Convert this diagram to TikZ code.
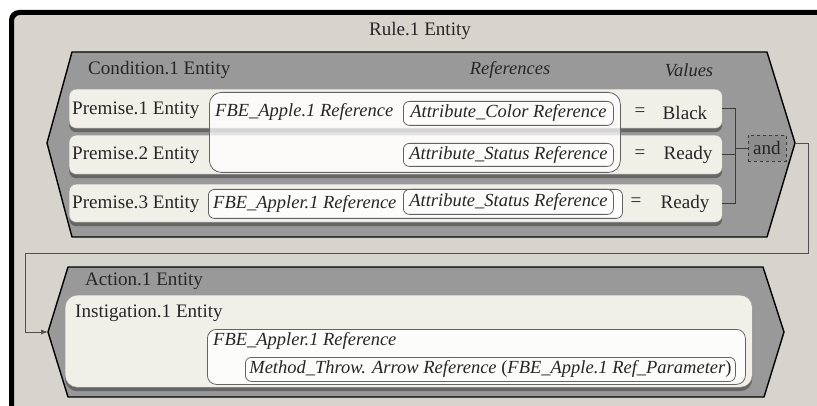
\documentclass[tikz,border=0pt]{standalone}
\usepackage{fontspec}
\setmainfont{Liberation Serif}
\usetikzlibrary{shadows,arrows.meta}
\definecolor{rulebg}{HTML}{D6D4CC}
\definecolor{hexbg}{HTML}{999999}
\definecolor{rowbg}{HTML}{F1F0E8}
\definecolor{refbg}{HTML}{FCFCFA}
\definecolor{shadowc}{HTML}{666666}
\definecolor{linec}{HTML}{3C3C3C}
\newcommand{\itfont}{\fontsize{18.5}{22}\selectfont\itshape}
\begin{document}
\begin{tikzpicture}[x=1pt,y=-1pt,
  font=\fontsize{19.1}{22}\selectfont,
  rowbox/.style={draw=linec!50, fill=rowbg, rounded corners=7pt, anchor=north west, inner sep=0pt,
    drop shadow={shadow xshift=0pt, shadow yshift=-4pt, fill=shadowc, opacity=1}},
  refbox/.style={draw=linec!80, fill=refbg, rounded corners=6pt, anchor=north west, inner sep=0pt, line width=0.8pt},
  hexshape/.style={draw=black, fill=hexbg, line width=1.4pt, line join=round},
  lbl/.style={anchor=west, inner sep=0pt, text=black!85},
  reftxt/.style={lbl, font=\itfont},
  ctr/.style={inner sep=0pt, text=black!85},
  conn/.style={draw=linec, line width=0.9pt}
]
\useasboundingbox (0,0) rectangle (817,406);
% outer rule box
\fill[white] (0,0) rectangle (817,406);
\fill[rulebg] (12,13) rectangle (817,406);
\fill[black] (9,406) -- (9,20) arc[start angle=180, end angle=90, radius=10pt] -- (817,10) -- (817,15)
  -- (20,15) arc[start angle=90, end angle=180, radius=6pt] -- (14,406) -- cycle;
\node[ctr] (rule) at (420,31) {Rule.1 Entity};

% condition hexagon
\coordinate (cTL) at (72,52);
\coordinate (cTR) at (767,52);
\coordinate (condR) at (795,143);
\coordinate (cBR) at (767,237);
\coordinate (cBL) at (72,237);
\coordinate (condL) at (47,143);
\draw[hexshape] (cTL) -- (cTR) -- (condR) -- (cBR) -- (cBL) -- (condL) -- cycle;
\node[lbl] (condlbl) at (88,70) {Condition.1 Entity};
\node[ctr, font=\itfont] (refhead) at (510,70) {References};
\node[ctr, font=\itfont] (valhead) at (689,70) {Values};

% premise rows
\node[rowbox, minimum width=653pt, minimum height=39pt] (p1) at (69,89) {};
\node[rowbox, minimum width=653pt, minimum height=39pt] (p2) at (69,135) {};
\node[rowbox, minimum width=653pt, minimum height=38pt] (p3) at (69,184) {};

% big reference box across premise 1 and 2
\node[draw=linec!80, fill=white, fill opacity=0.72, rounded corners=12pt, anchor=north west, inner sep=0pt,
  line width=0.8pt, minimum width=411pt, minimum height=80pt] (fbe1) at (209,92) {};
\node[refbox, minimum width=414pt, minimum height=29pt] (fbe3) at (208,189) {};

\node[lbl] (p1t) at (72,110) {Premise.1 Entity};
\node[lbl] (p2t) at (72,155) {Premise.2 Entity};
\node[lbl] (p3t) at (72,204) {Premise.3 Entity};

\node[reftxt] (fbe1t) at (215,112) {FBE\_Apple.1 Reference};
\node[reftxt] (fbe3t) at (213,204) {FBE\_Appler.1 Reference};

\node[refbox, minimum width=210pt, minimum height=24pt] (att1) at (403,101) {};
\node[ctr, font=\itfont] at (att1.center) {Attribute\_Color Reference};
\node[refbox, minimum width=210pt, minimum height=23pt] (att2) at (403,143) {};
\node[ctr, font=\itfont] at (att2.center) {Attribute\_Status Reference};
\node[refbox, minimum width=210pt, minimum height=25pt] (att3) at (403,189) {};
\node[ctr, font=\itfont] at (att3.center) {Attribute\_Status Reference};

\node[ctr] (eq1) at (640,112) {=};
\node[ctr] (eq2) at (640,154) {=};
\node[ctr] (eq3) at (636,202) {=};
\node[ctr] (v1) at (685,113) {Black};
\node[ctr] (v2) at (688,155) {Ready};
\node[ctr] (v3) at (685,204) {Ready};

% and junction
\coordinate (jx) at (735,0);
\node[draw=linec, dashed, fill=hexbg!92!black, minimum width=38pt, minimum height=26pt, inner sep=0pt] (and) at (767,148) {};
\node[ctr] (andt) at (and.center) {and};
\draw[conn] (p1.east) -- (p1.east -| jx) -- (p3.east -| jx) -- (p3.east);
\draw[conn] (p2.east) -- (p2.east -| jx);
\draw[conn] (and.west -| jx) -- (and.west);

% action hexagon
\coordinate (aTL) at (68,267);
\coordinate (aTR) at (763,267);
\coordinate (actR) at (784,332);
\coordinate (aBR) at (764,397);
\coordinate (aBL) at (68,397);
\coordinate (actL) at (48,332);
\draw[hexshape] (aTL) -- (aTR) -- (actR) -- (aBR) -- (aBL) -- (actL) -- cycle;
\node[lbl] (actlbl) at (85,281) {Action.1 Entity};

\node[rowbox, rounded corners=12pt, minimum width=687pt, minimum height=92pt] (inst) at (65,295) {};
\node[lbl] (instt) at (75,313) {Instigation.1 Entity};
\node[refbox, rounded corners=9pt, minimum width=538pt, minimum height=55pt] (fbea) at (207,329) {};
\node[reftxt] (fbeat) at (213,341) {FBE\_Appler.1 Reference};
\node[refbox, minimum width=490pt, minimum height=24pt] (meth) at (245,357) {};
\node[ctr, font=\itfont] (metht) at (meth.center) {Method\_Throw. Arrow Reference \upshape(\itshape FBE\_Apple.1 Ref\_Parameter\upshape)};

% connector condition -> action
\coordinate (bendL) at (25,253);
\draw[conn, draw=linec!90, -{Latex[length=7pt,width=5pt]}] (condR) -- ++(13,0) |- (bendL) |- (actL);
\end{tikzpicture}
\end{document}
